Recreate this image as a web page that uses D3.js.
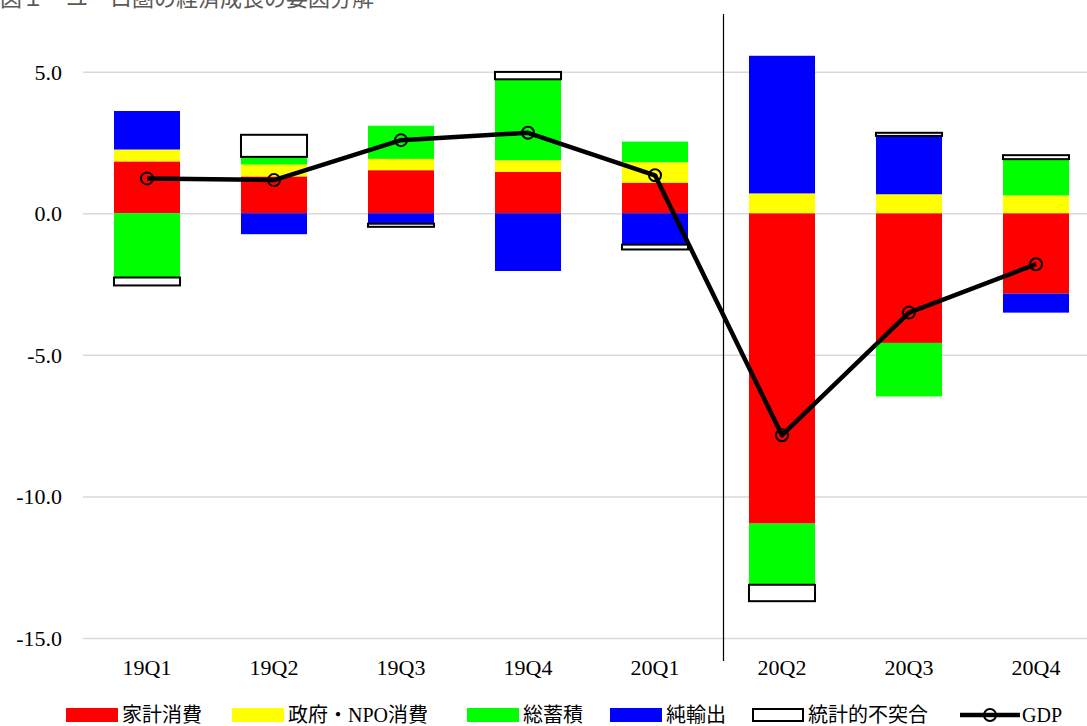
<!DOCTYPE html>
<html>
<head>
<meta charset="utf-8">
<script src="https://cdn.jsdelivr.net/npm/d3@7"></script>
<style>
  html, body { margin: 0; padding: 0; background: #fff; }
  svg { display: block; }
  text { font-family: "Liberation Serif", "Noto Sans CJK JP", serif; }
</style>
</head>
<body>
<svg id="chart" width="1087" height="726"></svg>
<script>
// Contributions to real GDP growth (%pt), by quarter
const categories   = ["19Q1", "19Q2", "19Q3", "19Q4", "20Q1", "20Q2", "20Q3", "20Q4"];
const household    = [1.83, 1.30, 1.52, 1.46, 1.08, -10.96, -4.58, -2.84];
const government   = [0.42, 0.42, 0.40, 0.41, 0.72, 0.70, 0.67, 0.63];
const investment   = [-2.27, 0.27, 1.17, 2.86, 0.73, -2.16, -1.89, 1.28];
const netExports   = [1.36, -0.74, -0.37, -2.04, -1.11, 4.86, 2.06, -0.67];
const discrepancy  = [-0.28, 0.78, -0.11, 0.26, -0.17, -0.58, 0.11, 0.14];
const gdp          = [1.23, 1.17, 2.58, 2.84, 1.34, -7.84, -3.51, -1.80];
const yTicks       = [5, 0, -5, -10, -15];

const seriesNames  = ["家計消費", "政府・NPO消費", "総蓄積", "純輸出", "統計的不突合"];
const seriesValues = [household, government, investment, netExports, discrepancy];
const seriesFill   = ["#ff0000", "#ffff00", "#00ff00", "#0000ff", "#ffffff"];

const svg = d3.select("#chart");

const x = d3.scaleBand().domain(categories).range([83.5, 1099.5]).paddingInner(0.48).paddingOuter(0.24);
const y = d3.scaleLinear().domain([-15, 7]).range([638, 15]);

// Title (runs off the top edge)
svg.append("text")
  .attr("x", 0).attr("y", 6)
  .attr("font-size", 22)
  .attr("fill", "#595959")
  .style("font-family", "'Noto Sans CJK JP', sans-serif")
  .text("図１　ユーロ圏の経済成長の要因分解");

// Horizontal gridlines + tick labels
const yAxis = d3.axisLeft(y).tickValues(yTicks).tickSize(-1004).tickFormat(d => d.toFixed(1));
const gy = svg.append("g").attr("transform", "translate(83,0)").call(yAxis);
gy.select(".domain").remove();
gy.selectAll(".tick line").attr("stroke", "#d9d9d9").attr("stroke-width", 1.5);
gy.selectAll(".tick text")
  .attr("x", -21).attr("dy", "0.34em")
  .attr("font-size", 22).attr("fill", "#000")
  .style("font-family", "'Liberation Serif', serif");

// Category labels
const xAxis = d3.axisBottom(x).tickSize(0);
const gx = svg.append("g").attr("transform", "translate(0,675)").call(xAxis);
gx.select(".domain").remove();
gx.selectAll(".tick text")
  .attr("dy", 0).attr("y", 0)
  .attr("font-size", 22).attr("fill", "#000")
  .style("font-family", "'Liberation Serif', serif");

// Stacked segments: positives upward, negatives downward
const segments = [];
categories.forEach((c, i) => {
  let pos = 0, neg = 0;
  seriesValues.forEach((vals, s) => {
    const v = vals[i];
    let y0, y1;
    if (v >= 0) { y0 = pos; y1 = pos + v; pos = y1; }
    else { y0 = neg; y1 = neg + v; neg = y1; }
    segments.push({ cat: c, s, y0, y1 });
  });
});

const barG = svg.append("g");
barG.selectAll("rect.seg")
  .data(segments.filter(d => d.s < 4))
  .join("rect")
  .attr("class", "seg")
  .attr("x", d => x(d.cat))
  .attr("width", x.bandwidth())
  .attr("y", d => Math.min(y(d.y0), y(d.y1)))
  .attr("height", d => Math.abs(y(d.y0) - y(d.y1)))
  .attr("fill", d => seriesFill[d.s]);

barG.selectAll("rect.disc")
  .data(segments.filter(d => d.s === 4))
  .join("rect")
  .attr("class", "disc")
  .attr("x", d => x(d.cat))
  .attr("width", x.bandwidth())
  .attr("y", d => Math.min(y(d.y0), y(d.y1)))
  .attr("height", d => Math.abs(y(d.y0) - y(d.y1)))
  .attr("fill", "#ffffff")
  .attr("stroke", "#000")
  .attr("stroke-width", 2);

// Divider between 20Q1 and 20Q2
const divX = (x("20Q1") + x.bandwidth() + x("20Q2")) / 2 + 5;
svg.append("line")
  .attr("x1", divX).attr("x2", divX)
  .attr("y1", 14).attr("y2", 661)
  .attr("stroke", "#000").attr("stroke-width", 1.2);

// GDP line with markers
const cx = c => x(c) + x.bandwidth() / 2;
const line = d3.line().x((d, i) => cx(categories[i])).y(d => y(d));
svg.append("path")
  .datum(gdp)
  .attr("d", line)
  .attr("fill", "none")
  .attr("stroke", "#000")
  .attr("stroke-width", 4.5)
  .attr("stroke-linejoin", "round");
svg.append("g").selectAll("circle")
  .data(gdp)
  .join("circle")
  .attr("cx", (d, i) => cx(categories[i]))
  .attr("cy", d => y(d))
  .attr("r", 6)
  .attr("fill", "none")
  .attr("stroke", "#000")
  .attr("stroke-width", 2);

// Legend
const legend = svg.append("g").attr("transform", "translate(0,715)");
const legendX = [66, 232, 467, 610, 752];
seriesNames.forEach((name, s) => {
  const g = legend.append("g").attr("transform", `translate(${legendX[s]},0)`);
  g.append("rect")
    .attr("x", s === 4 ? 1 : 0).attr("y", s === 4 ? -6 : -7)
    .attr("width", s === 4 ? 50 : 52).attr("height", s === 4 ? 12 : 14)
    .attr("fill", seriesFill[s])
    .attr("stroke", s === 4 ? "#000" : "none")
    .attr("stroke-width", 2);
  g.append("text")
    .attr("x", 56).attr("dy", "0.34em")
    .attr("font-size", 20).attr("fill", "#000")
    .text(name);
});
const gl = legend.append("g").attr("transform", "translate(960,0)");
gl.append("line").attr("x1", 0).attr("x2", 60).attr("y1", 0).attr("y2", 0)
  .attr("stroke", "#000").attr("stroke-width", 4.5);
gl.append("circle").attr("cx", 30).attr("cy", 0).attr("r", 6)
  .attr("fill", "none").attr("stroke", "#000").attr("stroke-width", 2);
gl.append("text").attr("x", 62).attr("dy", "0.34em")
  .attr("font-size", 20).attr("fill", "#000")
  .style("font-family", "'Liberation Serif', serif")
  .text("GDP");
</script>
</body>
</html>
